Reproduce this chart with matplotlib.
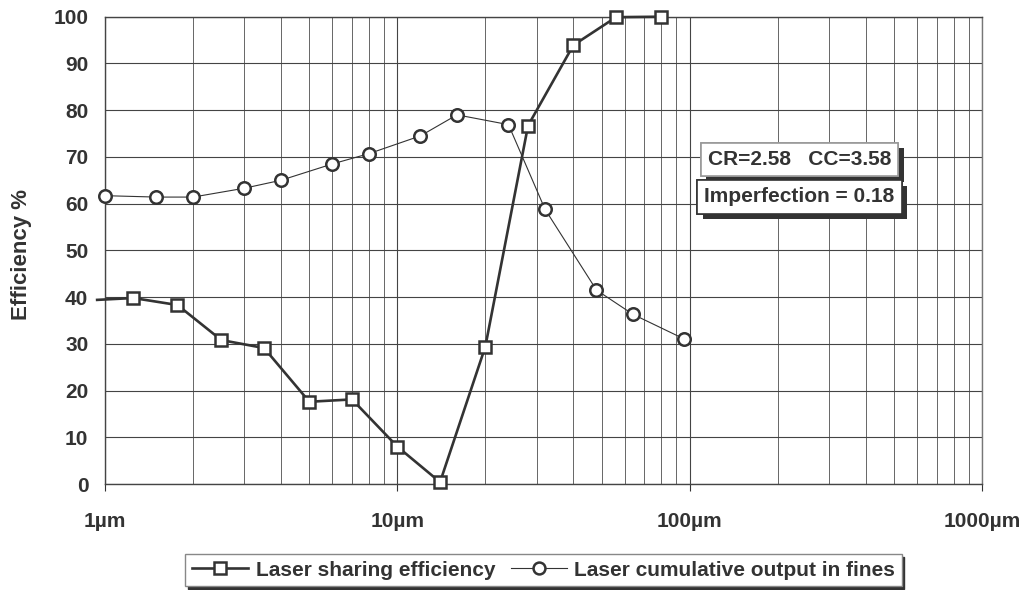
import matplotlib
matplotlib.use("Agg")
import matplotlib.pyplot as plt
import matplotlib.patheffects as pe
from matplotlib.ticker import FixedLocator, LogLocator, NullFormatter

# Particle size (µm) and efficiency (%) for each series
sharing_size = [0.94, 1.25, 1.77, 2.5, 3.5, 5, 7, 10, 14, 20, 28, 40, 56, 80]
sharing_eff = [39.4, 39.8, 38.3, 30.8, 29.1, 17.6, 18.1, 8.0, 0.4, 29.4, 76.7, 93.9, 99.9, 100.0]

fines_size = [1, 1.5, 2, 3, 4, 6, 8, 12, 16, 24, 32, 48, 64, 96]
fines_cum = [61.7, 61.4, 61.4, 63.3, 65.0, 68.5, 70.7, 74.5, 79.0, 76.9, 58.8, 41.5, 36.3, 31.0]

x_ticks = [1, 10, 100, 1000]
x_labels = ["1µm", "10µm", "100µm", "1000µm"]
y_ticks = list(range(0, 101, 10))

series_labels = ["Laser sharing efficiency", "Laser cumulative output in fines"]
info_lines = ["CR=2.58   CC=3.58", "Imperfection = 0.18"]

INK = "#333333"
FS = 15
plt.rcParams["font.family"] = ["Liberation Sans", "DejaVu Sans"]
plt.rcParams["font.weight"] = "bold"

fig = plt.figure(figsize=(10.23, 5.90), dpi=100)
ax = fig.add_axes([105 / 1023, 1 - 484 / 590, (982 - 105) / 1023, (484 - 16.7) / 590])

ax.set_xscale("log")
ax.set_xlim(1, 1000)
ax.set_ylim(0, 100)

# grid: decades + minor subdivisions, horizontal every 10 %
ax.xaxis.set_major_locator(FixedLocator(x_ticks))
ax.xaxis.set_minor_locator(LogLocator(base=10, subs=range(2, 10)))
ax.xaxis.set_minor_formatter(NullFormatter())
ax.set_xticklabels(x_labels)
ax.set_yticks(y_ticks)
ax.grid(True, which="major", axis="both", color="#444444", lw=0.8)
ax.grid(True, which="minor", axis="x", color="#666666", lw=0.7)
ax.set_axisbelow(True)

ax.tick_params(axis="x", which="major", direction="out", length=5, width=0.8,
               color=INK, pad=15, labelsize=FS, labelcolor=INK)
ax.tick_params(axis="x", which="minor", length=0)
ax.tick_params(axis="y", length=0, pad=12, labelsize=FS, labelcolor=INK)
for lab in ax.get_xticklabels() + ax.get_yticklabels():
    lab.set_fontweight("bold")

for side in ("left", "top", "bottom"):
    ax.spines[side].set_color("#444444")
    ax.spines[side].set_linewidth(1.0)
ax.spines["right"].set_color("#777777")
ax.spines["right"].set_linewidth(1.0)

fig.text(22 / 1023, 1 - 255 / 590, "Efficiency %", rotation=90, ha="center",
         va="center", fontsize=FS + 1, fontweight="bold", color=INK)

# series
ax.plot(sharing_size, sharing_eff, color=INK, lw=1.9, marker="s", markersize=8.8,
        markerfacecolor="white", markeredgecolor=INK, markeredgewidth=1.8,
        markevery=list(range(1, len(sharing_size))), clip_on=False, zorder=4,
        label=series_labels[0])
ax.plot(fines_size, fines_cum, color=INK, lw=0.8, marker="o", markersize=9,
        markerfacecolor="white", markeredgecolor=INK, markeredgewidth=1.8,
        clip_on=False, zorder=3, label=series_labels[1])

# legend below the axes with a drop shadow
leg = fig.legend(loc="center", bbox_to_anchor=(543.5 / 1023, 1 - 570 / 590),
                 ncol=2, frameon=True, fancybox=False, shadow={"color": INK, "alpha": 1.0},
                 prop={"size": FS, "weight": "bold"}, handlelength=2.7,
                 handletextpad=0.35, columnspacing=0.75, borderpad=0.32,
                 markerscale=0.95, labelcolor=INK)
leg.get_frame().set_edgecolor("#888888")
leg.get_frame().set_linewidth(1.0)
leg.get_frame().set_facecolor("white")

# information boxes with shadow
box_specs = [
    (info_lines[0], (799.5 - 105) / 877, (484 - 159.5) / 467.3, "#999999"),
    (info_lines[1], (799.5 - 105) / 877, (484 - 197) / 467.3, INK),
]
for text, bx, by, edge in box_specs:
    t = ax.text(bx, by, text, transform=ax.transAxes, ha="center", va="center",
                fontsize=FS, fontweight="bold", color=INK, zorder=6,
                bbox=dict(boxstyle="square,pad=0.34", facecolor="white",
                          edgecolor=edge, linewidth=1.2))
    t.get_bbox_patch().set_path_effects([
        pe.withSimplePatchShadow(offset=(4, -4), shadow_rgbFace=INK, alpha=1.0),
        pe.Normal(),
    ])

fig.savefig("out.png", dpi=100)
